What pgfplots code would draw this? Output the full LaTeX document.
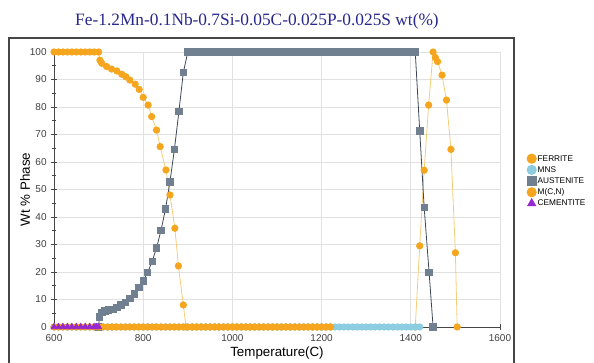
\documentclass[border=0pt]{standalone}
\usepackage{fontspec}
\setmainfont{Liberation Sans}
\newfontfamily\titlefont{Liberation Serif}
\usepackage{pgfplots}
\pgfplotsset{compat=1.18}
\definecolor{ferr}{RGB}{245,166,30}
\definecolor{ferrline}{RGB}{245,205,120}
\definecolor{aust}{RGB}{112,128,144}
\definecolor{austline}{RGB}{60,72,85}
\definecolor{mns}{RGB}{140,205,225}
\definecolor{cem}{RGB}{150,40,210}
\definecolor{titleblue}{RGB}{40,40,140}
\definecolor{axgray}{RGB}{70,70,70}
\definecolor{gridgray}{RGB}{225,225,225}
\begin{document}
\begin{tikzpicture}
\path[use as bounding box] (0,0) rectangle (445.5pt,272.25pt);
\draw[axgray, line width=0.8pt] (6.75pt,-2pt) rectangle (385.5pt,243.75pt);
\node[font=\titlefont\fontsize{13}{15}\selectfont, text=titleblue] at (192.75pt,256.5pt) {Fe-1.2Mn-0.1Nb-0.7Si-0.05C-0.025P-0.025S wt(\%)};
\begin{axis}[
  at={(40.5pt,27pt)}, anchor=south west,
  width=334.5pt, height=206.25pt, scale only axis,
  xmin=600, xmax=1600, ymin=0, ymax=100,
  clip=false,
  axis x line*=bottom, axis y line*=left,
  axis line style={axgray, line width=0.6pt, -},
  xtick={600,800,...,1600}, ytick={0,10,...,100},
  minor x tick num=1, minor y tick num=1,
  tick align=center,
  major tick length=4pt, minor tick length=3pt,
  every tick/.style={axgray, line width=0.5pt},
  grid=major,
  major grid style={gridgray, line width=0.5pt},
  /pgf/number format/assume math mode=true,
  /pgf/number format/set thousands separator={},
  tick label style={font=\fontsize{7.5}{8.5}\selectfont, text=black!75},
  xlabel={Temperature(C)}, ylabel={Wt \% Phase},
  label style={font=\bfseries\fontsize{10.5}{12}\selectfont, text=black!85},
  every axis x label/.style={at={(axis description cs:0.5,-0.095)}, anchor=center},
  every axis y label/.style={at={(axis description cs:-0.065,0.5)}, rotate=90, anchor=center},
  legend style={at={(1.06,0.63)}, anchor=north west, draw=none, fill=none,
    font=\fontsize{6.2}{7}\selectfont, row sep=1.4pt,
    inner xsep=0pt, inner ysep=0pt,
    nodes={inner xsep=1pt, inner ysep=0pt, text height=4.6pt, text depth=0.9pt}},
  legend cell align=left,
  legend image code/.code={\draw[#1, mark size=3.5pt, only marks] plot coordinates {(0.1cm,0cm)};},
]
% FERRITE
\addplot[ferrline, line width=0.6pt, mark=*, mark size=2.4pt, mark options={fill=ferr, draw=ferr}] coordinates {
(600,100)(610,100)(620,100)(630,100)(640,100)(650,100)(660,100)(670,100)(680,100)(690,100)(700,100)
(703,97)(707,95.9)(718,94.7)(729,93.8)(741,93.1)(752,91.9)(761,91)(770,89.8)(782,88.3)(791,86.4)
(800,83.5)(811,80.7)(819,76.5)(830,71.6)(838,65.6)(851,57.1)(860,48)(871,35.9)(879,22.2)(890,8)(896,0)
(910,0)(920,0)(930,0)(940,0)(950,0)(960,0)(970,0)(980,0)(990,0)(1000,0)
(1010,0)(1020,0)(1030,0)(1040,0)(1050,0)(1060,0)(1070,0)(1080,0)(1090,0)(1100,0)
(1110,0)(1120,0)(1130,0)(1140,0)(1150,0)(1160,0)(1170,0)(1180,0)(1190,0)(1200,0)(1210,0)(1220,0)
(1410,0)(1420,29.5)(1430,57)(1440,80.7)(1450,100)(1455,98)(1460,96.5)(1470,91.6)(1480,82.5)(1490,64.6)(1500,27)(1504,0)
};
\addlegendentry{FERRITE}
% MNS
\addplot[mns, line width=0.6pt, mark=*, mark size=2.4pt, mark options={fill=mns, draw=mns}] coordinates {
(600,0)(610,0)(620,0)(630,0)(640,0)(650,0)(660,0)(670,0)(680,0)(690,0)(700,0)
(710,0)(720,0)(730,0)(740,0)(750,0)(760,0)(770,0)(780,0)(790,0)(800,0)
(810,0)(820,0)(830,0)(840,0)(850,0)(860,0)(870,0)(880,0)(890,0)(900,0)
(910,0)(920,0)(930,0)(940,0)(950,0)(960,0)(970,0)(980,0)(990,0)(1000,0)
(1010,0)(1020,0)(1030,0)(1040,0)(1050,0)(1060,0)(1070,0)(1080,0)(1090,0)(1100,0)
(1110,0)(1120,0)(1130,0)(1140,0)(1150,0)(1160,0)(1170,0)(1180,0)(1190,0)(1200,0)
(1210,0)(1220,0)(1230,0)(1240,0)(1250,0)(1260,0)(1270,0)(1280,0)(1290,0)(1300,0)
(1310,0)(1320,0)(1330,0)(1340,0)(1350,0)(1360,0)(1370,0)(1380,0)(1390,0)(1400,0)
(1410,0)(1420,0)
};
\addlegendentry{MNS}
% AUSTENITE
\addplot[austline, line width=0.6pt, mark=square*, mark size=2.4pt, mark options={fill=aust, draw=aust}] coordinates {
(700,0)(702,3.7)(707,5.2)(714,5.8)(722,6.2)(732,6.5)(741,7.2)(750,8)(760,9)(770,10.4)(780,12.1)(790,14.3)
(800,16.7)(810,19.9)(820,23.8)(830,28.8)(840,35.2)(850,42.9)(860,52.8)(870,64.6)(880,78.3)(890,92.6)(900,100)
(910,100)(920,100)(930,100)(940,100)(950,100)(960,100)(970,100)(980,100)(990,100)(1000,100)
(1010,100)(1020,100)(1030,100)(1040,100)(1050,100)(1060,100)(1070,100)(1080,100)(1090,100)(1100,100)
(1110,100)(1120,100)(1130,100)(1140,100)(1150,100)(1160,100)(1170,100)(1180,100)(1190,100)(1200,100)
(1210,100)(1220,100)(1230,100)(1240,100)(1250,100)(1260,100)(1270,100)(1280,100)(1290,100)(1300,100)
(1310,100)(1320,100)(1330,100)(1340,100)(1350,100)(1360,100)(1370,100)(1380,100)(1390,100)(1400,100)
(1410,100)(1420,71.3)(1430,43.4)(1441,19.9)(1450,0)
};
\addlegendentry{AUSTENITE}
% M(C,N)
\addplot[ferrline, line width=0.6pt, mark=*, mark size=2.4pt, mark options={fill=ferr, draw=ferr}] coordinates {
(600,0)(610,0)(620,0)(630,0)(640,0)(650,0)(660,0)(670,0)(680,0)(690,0)(700,0)
(710,0)(720,0)(730,0)(740,0)(750,0)(760,0)(770,0)(780,0)(790,0)(800,0)
(810,0)(820,0)(830,0)(840,0)(850,0)(860,0)(870,0)(880,0)(890,0)(900,0)
(910,0)(920,0)(930,0)(940,0)(950,0)(960,0)(970,0)(980,0)(990,0)(1000,0)
(1010,0)(1020,0)(1030,0)(1040,0)(1050,0)(1060,0)(1070,0)(1080,0)(1090,0)(1100,0)
(1110,0)(1120,0)(1130,0)(1140,0)(1150,0)(1160,0)(1170,0)(1180,0)(1190,0)(1200,0)
(1210,0)(1220,0)
};
\addlegendentry{M(C,N)}
% CEMENTITE
\addplot[cem, line width=0.6pt, mark=triangle*, mark size=2.6pt, mark options={fill=cem, draw=cem}] coordinates {
(600,0)(610,0)(620,0)(630,0)(640,0)(650,0)(660,0)(670,0)(680,0)(690,0)(695,0)(700,0)
};
\addlegendentry{CEMENTITE}
\end{axis}
\end{tikzpicture}
\end{document}
